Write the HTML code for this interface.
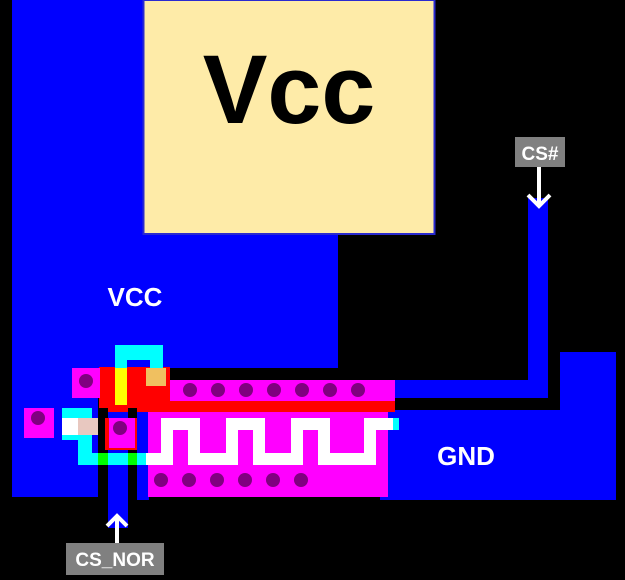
<!DOCTYPE html>
<html><head><style>
html,body{margin:0;padding:0;background:#000;}
svg{display:block;}
text{font-family:"Liberation Sans",Arial,sans-serif;font-weight:bold;}
</style></head><body>
<svg width="625" height="580" viewBox="0 0 625 580" xmlns="http://www.w3.org/2000/svg">
<rect width="625" height="580" fill="#000"/>
<path d="M12 0 H338 V368 H98 V497 H12 Z" fill="#0000ff"/>
<rect x="143.5" y="0" width="291" height="234" fill="#feeba8" stroke="#2a2ad0" stroke-width="2"/>
<text x="289" y="123" font-size="97" text-anchor="middle" fill="#000">Vcc</text>
<text x="135" y="306" font-size="26" text-anchor="middle" fill="#fff">VCC</text>
<path d="M528 198 H548 V398 H395 V380 H528 Z" fill="#0000ff"/>
<path d="M560 352 H616 V500 H380 V410 H560 Z" fill="#0000ff"/>
<text x="466" y="465" font-size="26" text-anchor="middle" fill="#fff">GND</text>
<rect x="137" y="405" width="12" height="95" fill="#0000ff"/>
<rect x="108" y="405" width="20" height="123" fill="#0000ff"/>
<rect x="99" y="367" width="71" height="40" fill="#ff0000"/>
<rect x="99" y="400" width="296" height="12" fill="#ff0000"/>
<rect x="170" y="380" width="225" height="21" fill="#ff00ff"/>
<g fill="#800080">
<circle cx="190" cy="390" r="7"/><circle cx="218" cy="390" r="7"/><circle cx="246" cy="390" r="7"/><circle cx="274" cy="390" r="7"/><circle cx="302" cy="390" r="7"/><circle cx="330" cy="390" r="7"/><circle cx="358" cy="390" r="7"/>
</g>
<rect x="72" y="368" width="28" height="30" fill="#ff00ff"/>
<circle cx="86" cy="381" r="7" fill="#800080"/>
<rect x="24" y="408" width="30" height="30" fill="#ff00ff"/>
<circle cx="38" cy="418" r="7" fill="#800080"/>
<path d="M115 405 V345 H163 V385 H150 V360 H127 V405 Z" fill="#00ffff"/>
<rect x="115" y="368" width="12" height="37" fill="#ffff00"/>
<rect x="146" y="368" width="20" height="18" fill="#f0c060"/>
<rect x="98" y="408" width="10" height="45" fill="#000"/>
<rect x="128" y="408" width="9" height="45" fill="#000"/>
<rect x="105" y="418" width="32" height="32" fill="#ff0000"/>
<rect x="109" y="418" width="26" height="30" fill="#ff00ff"/>
<circle cx="120" cy="428" r="7" fill="#800080"/>
<rect x="148" y="412" width="240" height="85" fill="#ff00ff"/>
<g fill="#800080">
<circle cx="161" cy="480" r="7"/><circle cx="189" cy="480" r="7"/><circle cx="217" cy="480" r="7"/><circle cx="245" cy="480" r="7"/><circle cx="273" cy="480" r="7"/><circle cx="301" cy="480" r="7"/>
</g>
<path d="M62 408 H92 V453 H148 V465 H78 V440 H62 Z" fill="#00ffff"/>
<rect x="98" y="453" width="10" height="12" fill="#00ff00"/>
<rect x="128" y="453" width="9" height="12" fill="#00ff00"/>
<rect x="62" y="418" width="36" height="17" fill="#fff"/>
<rect x="78" y="418" width="20" height="17" fill="#e8c8c0"/>
<polyline points="146,459 167,459 167,424 194,424 194,459 232,459 232,424 259,424 259,459 297,459 297,424 324,424 324,459 370,459 370,424 395,424" fill="none" stroke="#fff" stroke-width="12"/>
<rect x="393" y="418" width="6" height="12" fill="#00ffff"/>
<rect x="515" y="137" width="50" height="30" fill="#808080"/>
<text x="540" y="160" font-size="19" text-anchor="middle" fill="#fff">CS#</text>
<path d="M539 167 V206 M528 195 L539 206 L550 195" stroke="#fff" stroke-width="4" fill="none"/>
<rect x="66" y="543" width="98" height="32" fill="#808080"/>
<text x="115" y="566" font-size="19" text-anchor="middle" fill="#fff">CS_NOR</text>
<path d="M117 543 V516 M107 526 L117 516 L127 526" stroke="#fff" stroke-width="4" fill="none"/>
</svg>
</body></html>
